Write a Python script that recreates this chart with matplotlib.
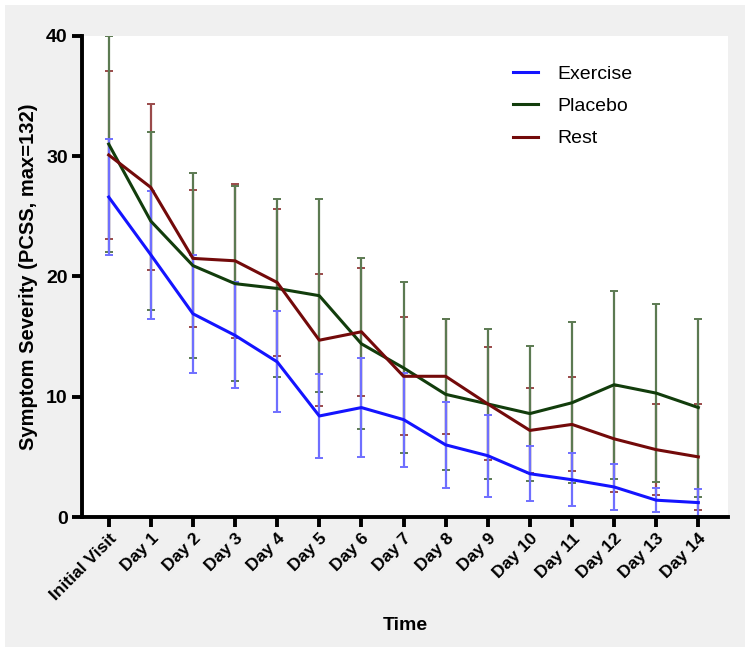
import numpy as np
import matplotlib
matplotlib.use("Agg")
from matplotlib import pyplot as plt
from matplotlib.patches import Rectangle

plt.rcParams['font.family'] = ['Liberation Sans', 'DejaVu Sans']

# Data (mean +/- SD)
days = ['Initial Visit'] + ['Day %d' % i for i in range(1, 15)]

exercise = [26.6, 21.8, 16.9, 15.1, 12.9, 8.4, 9.1, 8.1, 6.0, 5.1, 3.6, 3.1, 2.5, 1.4, 1.2]
exercise_sd = [4.8, 5.3, 4.9, 4.4, 4.2, 3.5, 4.1, 3.9, 3.6, 3.4, 2.3, 2.2, 1.9, 1.0, 1.1]

placebo = [31.0, 24.6, 20.9, 19.4, 19.0, 18.4, 14.4, 12.4, 10.2, 9.4, 8.6, 9.5, 11.0, 10.3, 9.1]
placebo_sd = [9.0, 7.4, 7.7, 8.1, 7.4, 8.0, 7.1, 7.1, 6.3, 6.2, 5.6, 6.7, 7.8, 7.4, 7.4]

rest = [30.1, 27.4, 21.5, 21.3, 19.5, 14.7, 15.4, 11.7, 11.7, 9.4, 7.2, 7.7, 6.5, 5.6, 5.0]
rest_sd = [7.0, 6.9, 5.7, 6.4, 6.1, 5.5, 5.3, 4.9, 4.8, 4.7, 3.5, 3.9, 4.4, 3.8, 4.4]

colors = {'Exercise': '#1414ff', 'Placebo': '#123d0c', 'Rest': '#730a0a'}
bar_colors = {'Exercise': '#6f6fff', 'Placebo': '#5c7a52', 'Rest': '#9a4a4a'}

fig = plt.figure(figsize=(7.5, 6.52), dpi=100, facecolor='white')
# light grey panel behind everything, leaving a thin white margin
fig.patches.append(Rectangle((5 / 750, 5 / 652), 740 / 750, 642 / 652,
                             transform=fig.transFigure, facecolor='#f0f0f0',
                             edgecolor='none', zorder=-5))
ax = fig.add_axes([0.109, 0.207, 0.862, 0.738])
ax.set_zorder(1)
ax.set_facecolor('white')

x = np.arange(len(days))
series = [('Exercise', exercise, exercise_sd),
          ('Placebo', placebo, placebo_sd),
          ('Rest', rest, rest_sd)]

# error bars: rest at the back, then placebo, exercise on top
for z, (name, vals, sd) in zip([2.3, 2.2, 2.1], series):
    ax.errorbar(x, vals, yerr=sd, fmt='none', ecolor=bar_colors[name],
                elinewidth=1.6, capsize=3, capthick=1.4, zorder=z)
for name, vals, sd in series:
    ax.plot(x, vals, color=colors[name], lw=2.2, label=name, zorder=3)

ax.set_xlim(-0.64, 14.71)
ax.set_ylim(0, 40)
ax.set_yticks([0, 10, 20, 30, 40])
ax.set_xticks(x)
ax.set_xticklabels(days, rotation=45, ha='right', rotation_mode='anchor',
                   fontsize=12.5, fontweight='bold')
for lab in ax.get_yticklabels():
    lab.set_fontsize(14)
    lab.set_fontweight('bold')

for s in ['top', 'right']:
    ax.spines[s].set_visible(False)
for s in ['left', 'bottom']:
    ax.spines[s].set_linewidth(2.8)
ax.tick_params(axis='both', direction='out', length=7, width=2.8, pad=3)

ax.set_xlabel('Time', fontsize=14, fontweight='bold', labelpad=10)
ax.set_ylabel('Symptom Severity (PCSS, max=132)', fontsize=14.5, fontweight='bold', labelpad=6)

ax.legend(loc='upper left', bbox_to_anchor=(0.64, 0.975), frameon=False, fontsize=14,
          handlelength=1.3, handletextpad=1.0, labelspacing=0.75)

fig.savefig('out.png', dpi=100, facecolor=fig.get_facecolor())
